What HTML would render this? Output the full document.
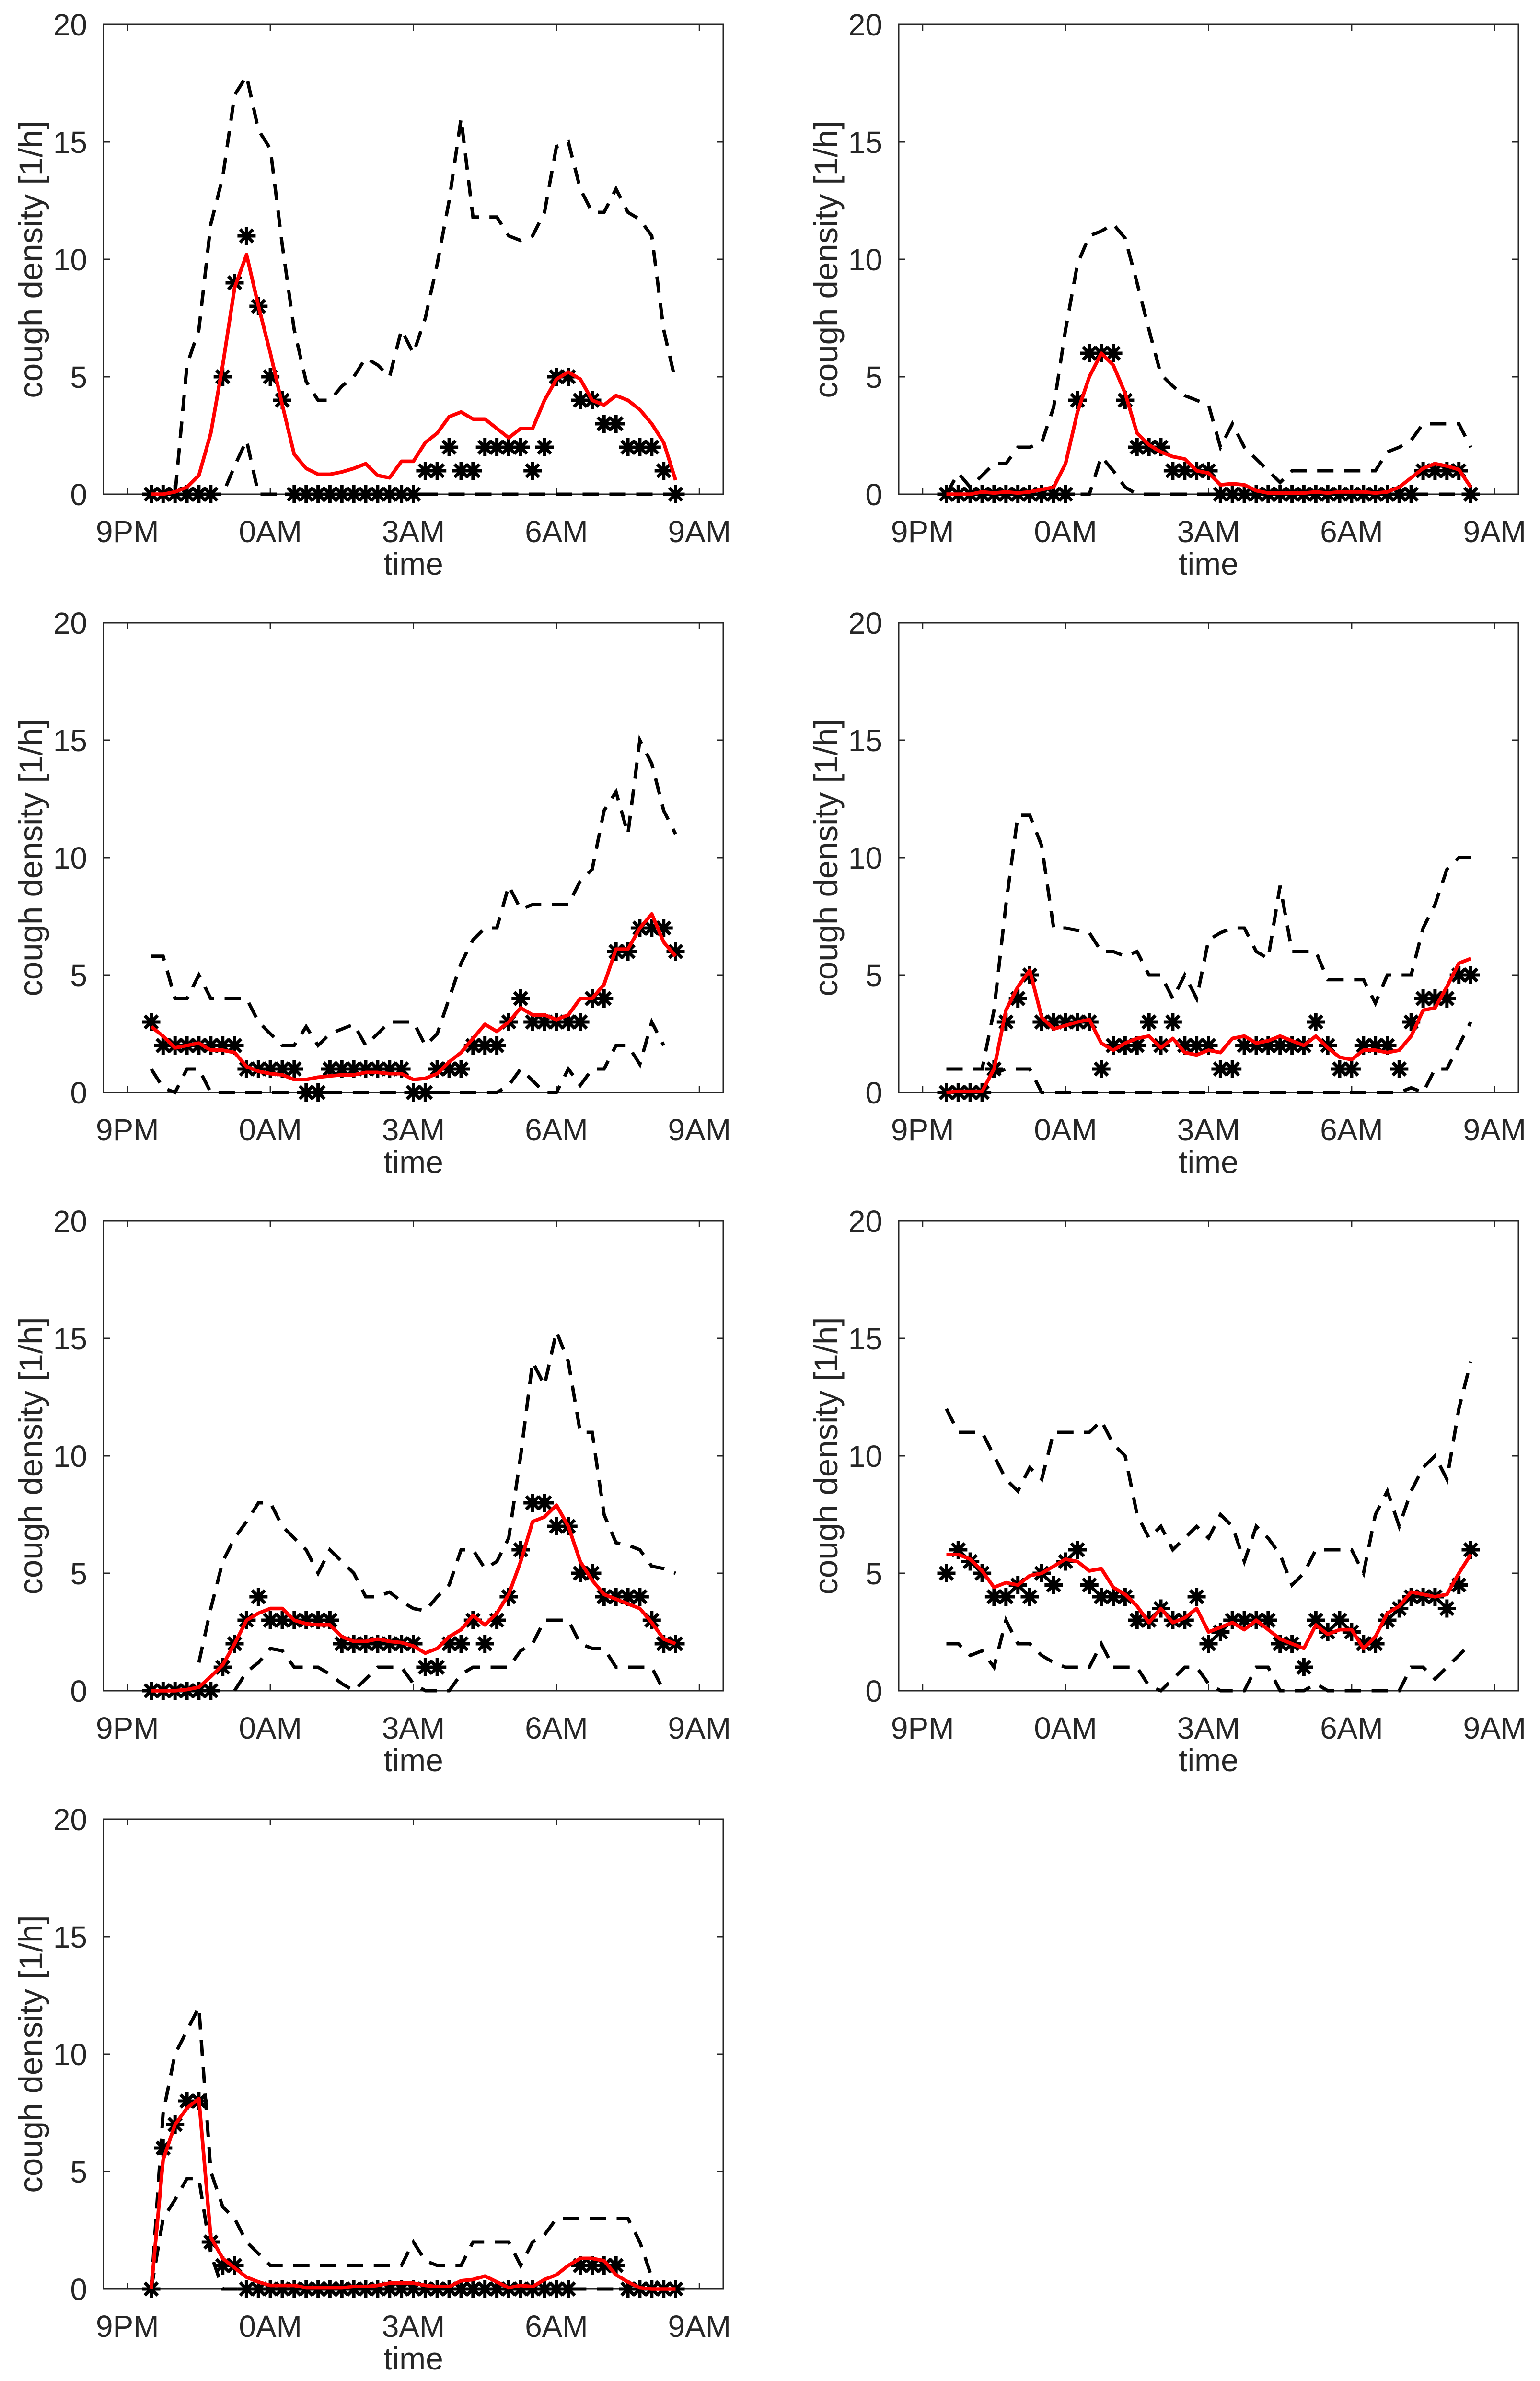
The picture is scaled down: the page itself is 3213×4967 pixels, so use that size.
<!DOCTYPE html>
<html>
<head>
<meta charset="utf-8">
<style>
html,body{margin:0;padding:0;background:#fff;}
svg{display:block;}
text{font-family:"Liberation Sans",Arial,sans-serif;fill:#262626;}
</style>
</head>
<body>
<svg id="fig" width="3213" height="4967" viewBox="0 0 3213 4967" xmlns="http://www.w3.org/2000/svg"></svg>
<script>
// hours after 9PM (x categories)
const hours = [0.5,0.75,1,1.25,1.5,1.75,2,2.25,2.5,2.75,3,3.25,3.5,3.75,4,4.25,4.5,4.75,5,5.25,5.5,5.75,6,6.25,6.5,6.75,7,7.25,7.5,7.75,8,8.25,8.5,8.75,9,9.25,9.5,9.75,10,10.25,10.5,10.75,11,11.25,11.5];
const xTickValues = [0,3,6,9,12];
const xTickLabels = ["9PM","0AM","3AM","6AM","9AM"];
const yTickValues = [0,5,10,15,20];
const yTickLabels = ["0","5","10","15","20"];

// Panel 1
const p1Stars = [0,0,0,0,0,0,5,9,11,8, 5,4,0,0,0,0,0,0,0,0, 0,0,0,1,1,2,1,1,2,2, 2,2,1,2,5,5,4,4,3,3, 2,2,2,1,0];
const p1Upper = [0,0,0,5.5,7,11.5,13.5,17,17.8,15.5, 14.7,10.6,7,4.8,4,4,4.6,5,5.8,5.5, 5,7,6,7.5,9.8,12.5,16,11.8,11.8,11.8, 11,10.8,11,12,14.8,15,13,12,12,13, 12,11.7,11,7,4.8];
const p1Lower = [0,0,0,0,0,0,0,1.2,2.3,0, 0,0,0,0,0,0,0,0,0,0, 0,0,0,0,0,0,0,0,0,0, 0,0,0,0,0,0,0,0,0,0, 0,0,0,0,0];
const p1Smooth = [0,0,0.1,0.3,0.8,2.6,5.5,8.8,10.2,8, 6,3.8,1.7,1.1,0.85,0.85,0.95,1.1,1.3,0.8, 0.7,1.4,1.4,2.2,2.6,3.3,3.5,3.2,3.2,2.8, 2.4,2.8,2.8,4.0,4.9,5.2,4.9,4.0,3.8,4.2, 4.0,3.6,3.0,2.2,0.6];

// Panel 2
const p2Stars = [0,0,0,0,0,0,0,0,0,0, 0,4,6,6,6,4,2,2,2,1, 1,1,1,0,0,0,0,0,0,0, 0,0,0,0,0,0,0,0,0,0, 1,1,1,1,0];
const p2Upper = [0,0.9,0.3,0.8,1.3,1.3,2,2,2.2,3.7, 7,9.8,11,11.2,11.5,10.9,9,7,5.1,4.6, 4.2,4,3.8,2,3,2,1.5,1,0.5,1, 1,1,1,1,1,1,1,1.8,2,2.3, 3,3,3,3,2];
const p2Lower = [0,0,0,0,0,0,0,0,0,0, 0,0,0,1.6,1.0,0.3,0,0,0,0, 0,0,0,0,0,0,0,0,0,0, 0,0,0,0,0,0,0,0,0,0, 0,0,0,0,0];
const p2Smooth = [0,0,0,0.1,0.05,0.1,0.05,0.1,0.2,0.3, 1.3,3.5,5,6,5.5,4.3,2.6,2.1,1.8,1.6, 1.5,1.0,0.9,0.4,0.45,0.4,0.15,0.05,0.05,0.05, 0.05,0.1,0.05,0.1,0.1,0.1,0.05,0.1,0.3,0.7, 1.1,1.3,1.2,1.05,0.3];

// Panel 3
const p3Stars = [3,2,2,2,2,2,2,2,1,1, 1,1,1,0,0,1,1,1,1,1, 1,1,0,0,1,1,1,2,2,2, 3,4,3,3,3,3,3,4,4,6, 6,7,7,7,6];
const p3Upper = [5.8,5.8,4,4,5,4,4,4,4,3, 2.5,2,2,2.8,2,2.5,2.7,2.9,2,2.5, 3,3,3,2,2.5,4,5.5,6.5,7,7, 8.8,7.8,8,8,8,8,9,9.5,12,12.8, 11,15,14,12,11];
const p3Lower = [1,0.2,0,1,1,0,0,0,0,0, 0,0,0,0,0,0,0,0,0,0, 0,0,0,0,0,0,0,0,0,0, 0.3,1,0.5,0,0,1,0.3,1,1,2, 2,1.2,3,2,null];
const p3Smooth = [2.8,2.4,1.9,2.0,2.1,1.8,1.8,1.7,1.1,0.9, 0.8,0.75,0.55,0.55,0.65,0.7,0.75,0.75,0.85,0.85, 0.8,0.8,0.55,0.6,0.8,1.3,1.7,2.3,2.9,2.6, 3.0,3.6,3.3,3.3,3.1,3.3,4.0,4.0,4.6,6.1, 6.1,7.0,7.6,6.4,5.8];

// Panel 4
const p4Stars = [0,0,0,0,1,3,4,5,3,3, 3,3,3,1,2,2,2,3,2,3, 2,2,2,1,1,2,2,2,2,2, 2,3,2,1,1,2,2,2,1,3, 4,4,4,5,5];
const p4Upper = [1,1,1,1,3.5,8,11.8,11.8,10.5,7, 7,6.9,6.8,6,6,5.8,6,5,5,4, 5,4,6.5,6.8,7,7,6,5.7,8.8,6, 6,6,4.8,4.8,4.8,4.8,3.8,5,5,5, 7,8,9.5,10,10];
const p4Lower = [0,0,0,0,0.8,1,1,1,0,0, 0,0,0,0,0,0,0,0,0,0, 0,0,0,0,0,0,0,0,0,0, 0,0,0,0,0,0,0,0,0,0.2, 0,1,1,2,3];
const p4Smooth = [0,0.05,0.05,0.05,1,3.5,4.5,5.2,3.2,2.7, 2.85,3.0,3.1,2.1,1.8,2.1,2.3,2.4,1.9,2.3, 1.7,1.6,1.8,1.7,2.3,2.4,2.1,2.2,2.4,2.2, 2.0,2.4,1.9,1.5,1.4,1.8,1.8,1.7,1.8,2.4, 3.5,3.6,4.5,5.5,5.7];

// Panel 5
const p5Stars = [0,0,0,0,0,0,1,2,3,4, 3,3,3,3,3,3,2,2,2,2, 2,2,2,1,1,2,2,3,2,3, 4,6,8,8,7,7,5,5,4,4, 4,4,3,2,2];
const p5Upper = [null,null,null,null,1.2,3.5,5.5,6.5,7.2,8, 8,7,6.5,6,5,6,5.5,5,4,4, 4.2,3.8,3.5,3.4,4,4.5,6,6,5.2,5.5, 6.5,10,14,13,15.3,14,11,11,7.5,6.3, 6.2,6,5.3,5.2,5];
const p5Lower = [null,null,null,null,null,null,null,0,0.8,1.2, 1.8,1.7,1,1,1,0.7,0.3,0,0.5,1, 1,1,0.3,0,0,0,0.7,1,1,1, 1,1.7,2,3,3,3,2,1.8,1.8,1, 1,1,1,0,null];
const p5Smooth = [0,0,0,0.05,0.15,0.6,1.1,2.0,3.0,3.3, 3.5,3.5,3.0,2.85,2.8,2.8,2.3,2.1,2.1,2.2, 2.1,2.05,1.9,1.6,1.8,2.3,2.6,3.2,2.8,3.3, 4.1,5.5,7.2,7.4,7.9,7.0,5.5,4.7,4.1,3.9, 3.7,3.5,2.9,2.2,2.0];

// Panel 6
const p6Stars = [5,6,5.5,5,4,4,4.5,4,5,4.5, 5.5,6,4.5,4,4,4,3,3,3.5,3, 3,4,2,2.5,3,3,3,3,2,2, 1,3,2.5,3,2.5,2,2,3,3.5,4, 4,4,3.5,4.5,6];
const p6Upper = [12,11,11,11,10,9,8.5,9.5,9,11, 11,11,11,11.5,10.5,10,7.5,6.5,7,6, 6.5,7,6.5,7.5,7,5.5,7,6.5,5.8,4.5, 5,6,6,6,6,5,7.5,8.5,7,8.5, 9.5,10,9,12,14];
const p6Lower = [2,2,1.5,1.7,1,3,2,2,1.5,1.2, 1,1,1,2,1,1,1,0.2,0,0.5, 1,1,0.3,0,0,0,1,1,0,0, 0,0.3,0,0,0,0,0,0,0,1, 1,0.5,1,1.5,2];
const p6Smooth = [5.8,5.8,5.6,5.1,4.4,4.6,4.5,4.9,5.0,5.3, 5.6,5.5,5.1,5.2,4.4,4.1,3.6,2.9,3.5,2.9, 3.1,3.5,2.5,2.7,2.9,2.6,3.0,2.6,2.2,2.0, 1.8,2.8,2.4,2.6,2.6,1.8,2.3,3.3,3.6,4.2, 4.1,4.0,4.1,5.0,5.8];

// Panel 7
const p7Stars = [0,6,7,8,8,2,1,1,0,0, 0,0,0,0,0,0,0,0,0,0, 0,0,0,0,0,0,0,0,0,0, 0,0,0,0,0,0,1,1,1,1, 0,0,0,0,0];
const p7Upper = [0,7.5,10,11,12,5,3.5,3,2,1.5, 1,1,1,1,1,1,1,1,1,1, 1,1,2,1.2,1,1,1,2,2,2, 2,1,2,2.3,3,3,3,3,3,3, 3,2,0.5,0,0];
const p7Lower = [0,3,3.8,4.7,4.7,1.5,0,0,0,0, 0,0,0,0,0,0,0,0,0,0, 0,0,0,0,0,0,0,0,0,0, 0,0,0,0,0,0,0,0,0,0, 0,0,0,0,0];
const p7Smooth = [0,5.5,7.0,7.7,8.1,2.2,1.3,0.9,0.5,0.3, 0.15,0.15,0.15,0.05,0.05,0.05,0.05,0.1,0.1,0.15, 0.25,0.25,0.25,0.15,0.1,0.1,0.35,0.4,0.55,0.3, 0.05,0.15,0.1,0.4,0.6,1.0,1.3,1.3,1.2,0.6, 0.3,0.05,0,0,0];

const panels = [
  {stars:p1Stars, upper:p1Upper, lower:p1Lower, smooth:p1Smooth},
  {stars:p2Stars, upper:p2Upper, lower:p2Lower, smooth:p2Smooth},
  {stars:p3Stars, upper:p3Upper, lower:p3Lower, smooth:p3Smooth},
  {stars:p4Stars, upper:p4Upper, lower:p4Lower, smooth:p4Smooth},
  {stars:p5Stars, upper:p5Upper, lower:p5Lower, smooth:p5Smooth},
  {stars:p6Stars, upper:p6Upper, lower:p6Lower, smooth:p6Smooth},
  {stars:p7Stars, upper:p7Upper, lower:p7Lower, smooth:p7Smooth}
];

const NS = "http://www.w3.org/2000/svg";
const svg = document.getElementById("fig");
const colLeft = [216, 1875];
const rowTop = [51, 1299, 2547, 3795];
const W = 1293, H = 980;
const XMIN = -0.5, XMAX = 12.5, YMIN = 0, YMAX = 20;

function mk(tag, parent) { const e = document.createElementNS(NS, tag); parent.appendChild(e); return e; }

function pathFrom(vals, sx, sy) {
  let d = "", pen = false;
  for (let i = 0; i < vals.length; i++) {
    const v = vals[i];
    if (v === null || v === undefined) { pen = false; continue; }
    d += (pen ? "L" : "M") + sx(hours[i]).toFixed(1) + " " + sy(v).toFixed(1) + " ";
    pen = true;
  }
  return d;
}

panels.forEach((p, k) => {
  const L = colLeft[k % 2], T = rowTop[Math.floor(k / 2)];
  const sx = h => L + (h - XMIN) / (XMAX - XMIN) * W;
  const sy = v => T + H - (v - YMIN) / (YMAX - YMIN) * H;
  const g = mk("g", svg);
  
  

  const frame = mk("rect", g);
  frame.setAttribute("x", L); frame.setAttribute("y", T);
  frame.setAttribute("width", W); frame.setAttribute("height", H);
  frame.setAttribute("fill", "none"); frame.setAttribute("stroke", "#262626"); frame.setAttribute("stroke-width", "3");
  
  

  xTickValues.forEach((tv, i) => {
    const x = sx(tv);
    [[T + H, T + H - 13], [T, T + 13]].forEach(([a, b]) => {
      const t = mk("line", g);
      t.setAttribute("x1", x); t.setAttribute("x2", x); t.setAttribute("y1", a); t.setAttribute("y2", b);
      t.setAttribute("stroke", "#262626"); t.setAttribute("stroke-width", "3");
      
      
    });
    const lab = mk("text", g);
    lab.setAttribute("x", x); lab.setAttribute("y", T + H + 100);
    lab.setAttribute("text-anchor", "middle"); lab.setAttribute("font-size", "64");
    lab.textContent = xTickLabels[i];
    
    
  });
  yTickValues.forEach((tv, i) => {
    const y = sy(tv);
    [[L, L + 13], [L + W, L + W - 13]].forEach(([a, b]) => {
      const t = mk("line", g);
      t.setAttribute("x1", a); t.setAttribute("x2", b); t.setAttribute("y1", y); t.setAttribute("y2", y);
      t.setAttribute("stroke", "#262626"); t.setAttribute("stroke-width", "3");
      
      
    });
    const lab = mk("text", g);
    lab.setAttribute("x", L - 34); lab.setAttribute("y", y + 23);
    lab.setAttribute("text-anchor", "end"); lab.setAttribute("font-size", "64");
    lab.textContent = yTickLabels[i];
    
    
  });
  const xt = mk("text", g);
  xt.setAttribute("x", L + W / 2); xt.setAttribute("y", T + H + 168);
  xt.setAttribute("text-anchor", "middle"); xt.setAttribute("font-size", "66");
  xt.textContent = "time";
  
  
  const yt = mk("text", g);
  const yx = L - 128, yy = T + H / 2;
  yt.setAttribute("x", yx); yt.setAttribute("y", yy);
  yt.setAttribute("transform", "rotate(-90 " + yx + " " + yy + ")");
  yt.setAttribute("text-anchor", "middle"); yt.setAttribute("font-size", "69");
  yt.textContent = "cough density [1/h]";
  
  

  const up = mk("path", g);
  up.setAttribute("d", pathFrom(p.upper, sx, sy));
  up.setAttribute("fill", "none"); up.setAttribute("stroke", "#000"); up.setAttribute("stroke-width", "7");
  up.setAttribute("stroke-dasharray", "34 22");
  
  
  const lo = mk("path", g);
  lo.setAttribute("d", pathFrom(p.lower, sx, sy));
  lo.setAttribute("fill", "none"); lo.setAttribute("stroke", "#000"); lo.setAttribute("stroke-width", "7");
  lo.setAttribute("stroke-dasharray", "34 22");
  
  

  const sg = mk("g", g);
  
  
  p.stars.forEach((v, i) => {
    if (v === null) return;
    const cx = sx(hours[i]), cy = sy(v), r = 19;
    const st = mk("path", sg);
    let d = "";
    for (let a = 0; a < 4; a++) {
      const ang = a * Math.PI / 4;
      const dx = r * Math.cos(ang), dy = r * Math.sin(ang);
      d += "M" + (cx - dx).toFixed(1) + " " + (cy - dy).toFixed(1) + "L" + (cx + dx).toFixed(1) + " " + (cy + dy).toFixed(1);
    }
    st.setAttribute("d", d);
    st.setAttribute("stroke", "#000"); st.setAttribute("stroke-width", "7"); st.setAttribute("fill", "none");
    
    
  });

  const sm = mk("path", g);
  sm.setAttribute("d", pathFrom(p.smooth, sx, sy));
  sm.setAttribute("fill", "none"); sm.setAttribute("stroke", "#ff0000"); sm.setAttribute("stroke-width", "7.5");
  sm.setAttribute("stroke-linejoin", "round");
  
  
});
</script>
</body>
</html>
